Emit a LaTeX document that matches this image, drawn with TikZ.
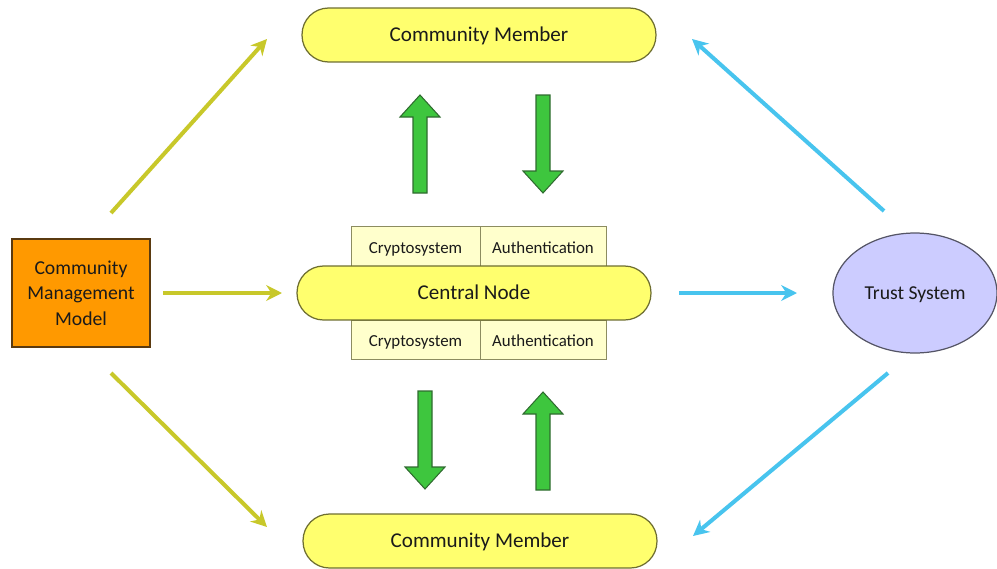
\documentclass[tikz,border=0pt]{standalone}
\usepackage{fontspec}
\setmainfont{Carlito}
\usetikzlibrary{arrows.meta,shapes.geometric}
\definecolor{memberfill}{HTML}{FFFF6E}
\definecolor{memberdraw}{HTML}{6E6E30}
\definecolor{boxfill}{HTML}{FFFFCC}
\definecolor{boxdraw}{HTML}{8C8C60}
\definecolor{orangefill}{HTML}{FF9900}
\definecolor{orangedraw}{HTML}{5A3A10}
\definecolor{ellfill}{HTML}{CCCCFF}
\definecolor{elldraw}{HTML}{555566}
\definecolor{greenfill}{HTML}{3EC63E}
\definecolor{greendraw}{HTML}{2F6B2F}
\definecolor{yarrow}{HTML}{C8C82A}
\definecolor{barrow}{HTML}{48C4EE}
\definecolor{txt}{HTML}{1A1A1A}
\tikzset{
  member/.style={draw=memberdraw, fill=memberfill, line width=0.7pt, rounded corners=0.53cm,
    minimum width=7.08cm, minimum height=1.08cm, inner sep=0pt, text height=2.1ex, text depth=0.45ex,
    font=\fontsize{12}{14}\selectfont, text=txt},
  secbox/.style={draw=boxdraw, fill=boxfill, line width=0.5pt, minimum height=0.79cm,
    inner sep=0pt, text height=2.1ex, text depth=0.45ex, font=\fontsize{9.6}{11}\selectfont, text=txt},
  cmm/.style={draw=orangedraw, fill=orangefill, line width=0.7pt, minimum width=2.76cm, minimum height=2.16cm,
    align=center, inner sep=0pt, font=\fontsize{11.2}{14.5}\selectfont, text=txt},
  trust/.style={draw=elldraw, fill=ellfill, line width=0.7pt, ellipse, minimum width=3.28cm, minimum height=2.4cm,
    inner sep=0pt, text height=2.1ex, text depth=0.45ex, font=\fontsize{11.2}{13}\selectfont, text=txt},
  yconn/.style={draw=yarrow, line width=2.3pt, -{Stealth[length=9pt,width=9pt]}},
  bconn/.style={draw=barrow, line width=2.3pt, -{Stealth[length=9pt,width=9pt]}},
  gblock/.style={draw=greendraw, fill=greenfill, line width=0.6pt, line join=miter},
  blockup/.pic={\path[gblock] (0,0) -- (20,22) -- (7,22) -- (7,98) -- (-7,98) -- (-7,22) -- (-20,22) -- cycle;},
  blockdown/.pic={\path[gblock] (0,0) -- (20,-22) -- (7,-22) -- (7,-98) -- (-7,-98) -- (-7,-22) -- (-20,-22) -- cycle;}
}
\begin{document}
\begin{tikzpicture}[x=0.02cm, y=-0.02cm]
\useasboundingbox (0,0) rectangle (997,568);
% members
\node[member] (top) at (479,35) {Community Member};
\node[member] (bot) at (480,541) {Community Member};
% security boxes
\node[secbox, minimum width=2.58cm] (crypto1) at (415.5,246.5) {Cryptosystem};
\node[secbox, minimum width=2.52cm] (auth1) at (543,246.5) {Authentication};
\node[secbox, minimum width=2.58cm] (crypto2) at (415.5,340) {Cryptosystem};
\node[secbox, minimum width=2.52cm] (auth2) at (543,340) {Authentication};
% central node
\node[member] (central) at (474,293) {Central Node};
% side nodes
\node[cmm] (cmm) at (81,293) {Community\\Management\\Model};
\node[trust] (trust) at (915,293) {Trust System};
% green block arrows
\pic at (420,95) {blockup};
\pic at (543,193) {blockdown};
\pic at (425,489) {blockdown};
\pic at (543,392) {blockup};
% connector end points
\coordinate (y1s) at (111,213); \coordinate (y1e) at (267,39);
\coordinate (y2s) at (163,293); \coordinate (y2e) at (282,293);
\coordinate (y3s) at (111,373); \coordinate (y3e) at (267,527);
\coordinate (b1s) at (884,211); \coordinate (b1e) at (692,39);
\coordinate (b2s) at (679,293); \coordinate (b2e) at (797,293);
\coordinate (b3s) at (888,373); \coordinate (b3e) at (693,536);
\draw[yconn] (y1s) -- (y1e);
\draw[yconn] (y2s) -- (y2e);
\draw[yconn] (y3s) -- (y3e);
\draw[bconn] (b1s) -- (b1e);
\draw[bconn] (b2s) -- (b2e);
\draw[bconn] (b3s) -- (b3e);
\end{tikzpicture}
\end{document}
